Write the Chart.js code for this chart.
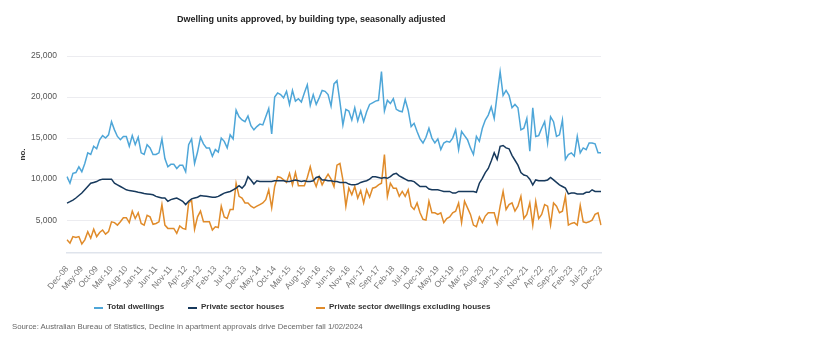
<!DOCTYPE html>
<html>
<head>
<meta charset="utf-8">
<script src="https://cdn.jsdelivr.net/npm/chart.js@4.4.1/dist/chart.umd.min.js"></script>
<style>
  html, body { margin: 0; padding: 0; background: #fff; }
  #wrap { position: relative; width: 822px; height: 345px; font-family: "Liberation Sans", Arial, sans-serif; }
  #title { position: absolute; left: 177px; top: 14px; font-size: 9px; font-weight: bold; color: #222; white-space: nowrap; }
  #legend { position: absolute; left: 0; top: 302px; font-size: 8px; font-weight: bold; color: #333; }
  .item { position: absolute; top: 0; white-space: nowrap; }
  .item i { position: absolute; top: 5px; width: 9px; height: 2px; }
  .item span { position: absolute; left: 13px; top: 0; }
  #source { position: absolute; left: 12px; top: 322px; font-size: 7.8px; color: #666; white-space: nowrap; }
</style>
</head>
<body>
<div id="wrap">
  <canvas id="myChart" width="822" height="345"></canvas>
  <div id="title">Dwelling units approved, by building type, seasonally adjusted</div>
  <div id="legend"></div>
  <div id="source">Source: Australian Bureau of Statistics, Decline in apartment approvals drive December fall 1/02/2024</div>
</div>
<script>
// monthly categories, Dec-08 .. Dec-23
var monthNames = ['Jan','Feb','Mar','Apr','May','Jun','Jul','Aug','Sep','Oct','Nov','Dec'];
var months = [];
for (var m = 11 + 2008 * 12; m <= 11 + 2023 * 12; m++) {
  months.push(monthNames[m % 12] + '-' + String(Math.floor(m / 12) % 100).padStart(2, '0'));
}

// Total dwellings
var totalDwellings = [
  10300, 9500, 10700, 10800, 11500, 10900, 11900, 13200, 13000, 14000,
  13700, 14800, 15300, 15000, 15400, 17000, 16000, 15200, 14800, 15200,
  15200, 14000, 15300, 14200, 15100, 13200, 13000, 14200, 13800, 13000,
  13000, 13200, 14900, 12500, 11500, 11800, 11800, 11300, 11700, 11700,
  10900, 14200, 14900, 11900, 13300, 15100, 14300, 13800, 13800, 12800,
  13600, 13300, 15000, 14600, 13800, 15400, 14900, 18400, 17600, 17200,
  17000, 17700, 16500, 16000, 16400, 16700, 16600, 17600, 18600, 15500,
  20000, 20500, 20300, 19900, 20700, 19100, 20800, 19500, 19800, 19400,
  20500, 21500, 19000, 20300, 19100, 19900, 20800, 20700, 20300, 18900,
  21600, 22000, 19400, 16600, 18500, 18300, 17200, 18700, 17100, 18300,
  17000, 18200, 19100, 19300, 19500, 19600, 23100, 18300, 19600, 19200,
  19800, 18500, 18300, 18200, 19700, 18400, 16400, 16800, 15800, 14900,
  14400, 15100, 16200, 15000, 14400, 14900, 13600, 14400, 14600, 14500,
  15000, 16000, 13600, 15800, 15300, 14800, 13800, 13000, 15200, 14600,
  16200, 17200, 17800, 18800, 17400, 20300, 23100, 20200, 20800, 20200,
  18700, 19100, 18700, 16000, 16200, 17400, 13400, 18700, 15200, 15300,
  16200, 17000, 14400, 17600, 17000, 15200, 15400, 17200, 12400, 13000,
  13200, 12800, 15200, 13200, 13800, 13600, 14400, 14400, 14300, 13200,
  13200
];

// Private sector houses
var privateHouses = [
  7070, 7250, 7450, 7700, 8000, 8300, 8700, 9100, 9500, 9600,
  9700, 9900, 10000, 10000, 10000, 10000, 9500, 9300, 9100, 8900,
  8700, 8600, 8550, 8500, 8400, 8350, 8250, 8200, 8150, 8100,
  7900, 7800, 7700, 7700, 7300, 7500, 7600, 7700, 7500, 7300,
  6900, 7300, 7600, 7700, 7800, 8000, 7950, 7900, 7850, 7800,
  7800, 7900, 8100, 8300, 8400, 8500, 8700, 8900, 9200, 8900,
  9300, 10300, 9900, 9400, 9800, 9700, 9700, 9700, 9700, 9700,
  9800, 9800, 9800, 9800, 9700, 9700, 9800, 9900, 9800, 9700,
  9800, 9700, 9700, 9800, 10200, 10300, 9900, 9900, 9800, 9800,
  9700, 9700, 9600, 9600, 9600, 9400, 9300, 9300, 9400, 9600,
  9700, 9800, 10000, 10300, 10300, 10200, 10100, 10200, 10100, 10300,
  10600, 10700, 10400, 10200, 10000, 9800, 9800, 9700, 9400, 9100,
  9100, 9100, 8800, 8700, 8700, 8700, 8600, 8500, 8500, 8500,
  8300, 8300, 8500, 8500, 8500, 8500, 8500, 8500, 8400, 9500,
  10100, 10800, 11300, 12200, 13200, 12400, 14000, 14100, 13800, 13700,
  12900, 12300, 11700, 10800, 10500, 10400, 10000, 9300, 9900, 9800,
  9800, 9800, 9900, 10200, 9900, 9600, 9300, 9100, 8900, 8200,
  8300, 8300, 8200, 8200, 8200, 8400, 8400, 8700, 8500, 8500,
  8500
];

// Private sector dwellings excluding houses
var privateExHouses = [
  2600, 2200, 3000, 2900, 3000, 2100, 2600, 3600, 2800, 3900,
  3000, 3500, 3800, 3300, 3600, 4800, 4700, 4400, 4800, 5300,
  5300, 4700, 6100, 5200, 5900, 4600, 4400, 5600, 5400, 4500,
  4600, 4800, 6900, 4400, 4000, 4000, 4000, 3400, 4300, 4000,
  3900, 7100, 7400, 3900, 5400, 6100, 4800, 4800, 4800, 3800,
  4200, 4100, 6700, 5400, 5200, 6300, 6300, 9500, 7900, 7700,
  7100, 7100, 6700, 6500, 6700, 6900, 7100, 7500, 8700, 6500,
  9100, 10300, 10200, 9900, 9600, 10700, 9300, 10800, 9200, 9200,
  9200, 10200, 11500, 10000, 9100, 10300, 9300, 10000, 10600, 10000,
  9100, 11700, 11900, 9900, 6700, 8900, 8100, 9100, 7700, 8600,
  7100, 8700, 7800, 8900, 9000, 9300, 9500, 13000, 7900, 9500,
  8900, 8900, 7900, 8500, 7900, 8700, 6700, 6300, 7100, 5900,
  5100, 5000, 7300, 5900, 5900, 5700, 5900, 4700, 5200, 5400,
  5900, 6100, 7100, 4700, 7300, 6500, 5700, 4400, 4200, 5400,
  4700, 5500, 5900, 5900, 5900, 4600, 6700, 8500, 6300, 6900,
  7100, 6100, 6700, 7900, 5200, 5700, 7100, 4400, 7300, 5200,
  5700, 6900, 6700, 4400, 7100, 6700, 5900, 6100, 7900, 4400,
  4600, 4700, 4400, 6800, 4800, 4700, 4800, 5000, 5700, 5900,
  4400
];

var yTicks = [5000, 10000, 15000, 20000, 25000];

var seriesNames = ['Total dwellings', 'Private sector houses', 'Private sector dwellings excluding houses'];
var seriesColors = ['#4ea6d8', '#17395c', '#e08b2a'];
var seriesData = [totalDwellings, privateHouses, privateExHouses];

var ctx = document.getElementById('myChart').getContext('2d');

var myChart = new Chart(ctx, {
  type: 'line',
  data: {
    labels: months,
    datasets: seriesData.map(function (d, k) {
      return {
        label: seriesNames[k],
        data: d,
        borderColor: seriesColors[k],
        backgroundColor: seriesColors[k],
        borderWidth: 1.5,
        pointRadius: 0,
        tension: 0,
        fill: false
      };
    })
  },
  options: {
    responsive: false,
    animation: false,
    layout: { padding: { left: 0, top: 56, right: 221, bottom: 0 } },
    plugins: {
      legend: { display: false },
      tooltip: { enabled: false }
    },
    scales: {
      x: {
        grid: { display: false },
        border: { display: true, color: '#dfe4ec', width: 1.5 },
        ticks: {
          autoSkip: false,
          maxRotation: 50,
          minRotation: 50,
          padding: 3,
          color: '#777',
          font: { family: 'Liberation Sans', size: 8.5 },
          callback: function (v, i) { return i % 5 === 0 ? months[i] : ''; }
        },
        afterFit: function (scale) { scale.height = 92; }
      },
      y: {
        min: 1000,
        max: 25000,
        afterBuildTicks: function (scale) {
          scale.ticks = yTicks.map(function (v) { return { value: v }; });
        },
        grid: { color: '#ececf0', drawTicks: false },
        border: { display: false },
        ticks: {
          padding: 10,
          color: '#555',
          font: { family: 'Liberation Sans', size: 8.5 },
          callback: function (v) { return v.toLocaleString('en-US'); }
        },
        title: {
          display: true,
          text: 'no.',
          color: '#333',
          font: { family: 'Liberation Sans', size: 8, weight: 'bold' },
          padding: { top: 18, bottom: 0 }
        },
        afterFit: function (scale) { scale.width = 67; }
      }
    }
  }
});

// legend as plain html
var legendX = [94, 188, 316];
var legend = document.getElementById('legend');
seriesNames.forEach(function (name, k) {
  var el = document.createElement('div');
  el.className = 'item';
  el.style.left = legendX[k] + 'px';
  el.innerHTML = '<i style="background:' + seriesColors[k] + '"></i><span>' + name + '</span>';
  legend.appendChild(el);
});
</script>
</body>
</html>
